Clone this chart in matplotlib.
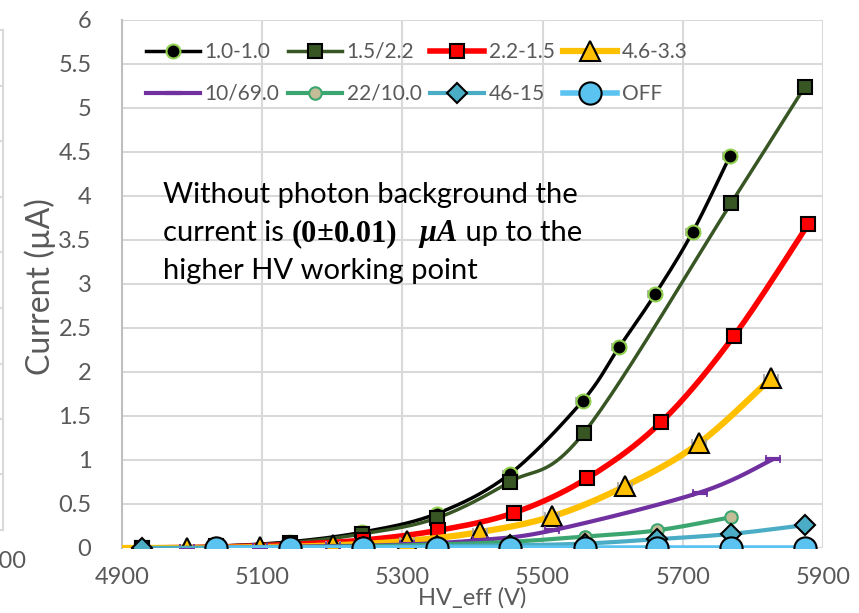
import numpy as np
import matplotlib
matplotlib.use("Agg")
import matplotlib.pyplot as plt
from matplotlib.lines import Line2D

plt.rcParams['font.family'] = ['Lato', 'DejaVu Sans']

# HV scan, current drawn by the chamber for each source filter setting
labels = ["1.0-1.0", "1.5/2.2", "2.2-1.5", "4.6-3.3", "10/69.0", "22/10.0", "46-15", "OFF"]

hv_10_10 = [4929, 5034, 5139, 5243, 5349, 5453, 5557, 5609, 5661, 5714, 5767]
i_10_10 = [0.0, 0.02, 0.07, 0.18, 0.39, 0.84, 1.67, 2.28, 2.89, 3.59, 4.45]

hv_15_22 = [4929, 5034, 5139, 5243, 5349, 5453, 5559, 5769, 5874]
i_15_22 = [0.0, 0.02, 0.06, 0.16, 0.34, 0.75, 1.31, 3.92, 5.24]

hv_22_15 = [4929, 5034, 5139, 5244, 5351, 5459, 5563, 5669, 5773, 5879]
i_22_15 = [0.0, 0.01, 0.04, 0.09, 0.20, 0.40, 0.79, 1.43, 2.41, 3.68]

hv_46_33 = [4888, 4993, 5097, 5201, 5306, 5410, 5514, 5617, 5723, 5826]
i_46_33 = [0.0, 0.0, 0.01, 0.03, 0.08, 0.18, 0.36, 0.70, 1.19, 1.93]

hv_10_69 = [4993, 5097, 5201, 5306, 5410, 5514, 5724, 5829]
i_10_69 = [0.0, 0.01, 0.02, 0.04, 0.09, 0.20, 0.63, 1.01]

hv_22_10 = [4929, 5034, 5139, 5244, 5350, 5454, 5560, 5663, 5769]
i_22_10 = [0.0, 0.0, 0.01, 0.02, 0.04, 0.07, 0.13, 0.20, 0.35]

hv_46_15 = [4929, 5034, 5139, 5244, 5350, 5454, 5560, 5663, 5769, 5874]
i_46_15 = [0.0, 0.0, 0.0, 0.01, 0.02, 0.03, 0.05, 0.10, 0.16, 0.26]

hv_off = [5034, 5139, 5244, 5350, 5454, 5560, 5663, 5769, 5874]
i_off = [0.0, 0.0, 0.0, 0.0, 0.0, 0.0, 0.0, 0.0, 0.0]

hv_err = 10  # V, uncertainty on HV_eff


def smooth(x, y, n=30):
    # Catmull-Rom style bezier through the points (like a smoothed line in a spreadsheet)
    p = np.column_stack([x, y]).astype(float)
    if len(p) < 3:
        return p[:, 0], p[:, 1]
    ext = np.vstack([p[0], p, p[-1]])
    xs, ys = [], []
    t = np.linspace(0, 1, n)
    for i in range(1, len(ext) - 2):
        p0, p1, p2, p3 = ext[i - 1], ext[i], ext[i + 1], ext[i + 2]
        c1 = p1 + (p2 - p0) / 6
        c2 = p2 - (p3 - p1) / 6
        b = ((1 - t) ** 3)[:, None] * p1 + (3 * (1 - t) ** 2 * t)[:, None] * c1 \
            + (3 * (1 - t) * t ** 2)[:, None] * c2 + (t ** 3)[:, None] * p2
        xs.append(b[:, 0])
        ys.append(b[:, 1])
    return np.concatenate(xs), np.concatenate(ys)


series = [
    # x, y, line color, lw, marker, ms, face, edge, err color, first marker
    (hv_10_10, i_10_10, "black", 2.5, "o", 10, "black", "#92D050", "#A6A6A6", 0),
    (hv_15_22, i_15_22, "#375623", 2.5, "s", 10, "#375623", "black", None, 0),
    (hv_22_15, i_22_15, "#FF0000", 4, "s", 10, "#FF0000", "black", None, 0),
    (hv_46_33, i_46_33, "#FFC000", 4.5, "^", 14, "#FFC000", "black", "#A6A6A6", 1),
    (hv_10_69, i_10_69, "#7030A0", 3, "_", 11, "#7030A0", "#7030A0", "#7030A0", 0),
    (hv_22_10, i_22_10, "#3BA66F", 3, "o", 9, "#C4BD97", "#3BA66F", None, 0),
    (hv_46_15, i_46_15, "#4BACC6", 3, "D", 10, "#4BACC6", "black", None, 0),
    (hv_off, i_off, "#5BC3F0", 4, "o", 16, "#5BC3F0", "black", None, 0),
]

W, H = 859, 613
fig = plt.figure(figsize=(W / 100, H / 100), dpi=100)
ax = fig.add_axes([122 / W, 1 - 548 / H, 701 / W, 528 / H])

grid_c = "#D9D9D9"
handles = []
for k, (x, y, lc, lw, mk, ms, fc, ec, errc, first) in enumerate(series):
    z = 3 + k
    sx, sy = smooth(x, y)
    ax.plot(sx, sy, color=lc, lw=lw, zorder=z, solid_capstyle="round")
    if errc is not None:
        ax.errorbar(x[first:], y[first:], xerr=hv_err, fmt="none", ecolor=errc,
                    elinewidth=1.2, capsize=3, capthick=1.2, zorder=z)
    mew = 3 if mk == "_" else 1.5
    ax.plot(x[first:], y[first:], ls="none", marker=mk, ms=ms, mfc=fc, mec=ec,
            mew=mew, zorder=z + 0.5)
    handles.append(Line2D([], [], color=lc, lw=lw, marker=mk, ms=ms, mfc=fc,
                          mec=ec, mew=mew))

ax.set_xlim(4900, 5900)
ax.set_ylim(0, 6)
ax.set_xticks(np.arange(4900, 5901, 200))
ax.set_yticks(np.arange(0, 6.01, 0.5))
ax.set_yticklabels([f"{v:g}" for v in np.arange(0, 6.01, 0.5)])
ax.grid(True, color=grid_c, lw=1.5, zorder=0)
ax.set_axisbelow(True)
for s in ["top", "right", "bottom"]:
    ax.spines[s].set_visible(False)
ax.spines["left"].set_color("#BFBFBF")
ax.spines["left"].set_linewidth(1.5)
ax.tick_params(axis="both", length=0, labelsize=17, labelcolor="#595959")
ax.tick_params(axis="y", pad=22)
ax.tick_params(axis="x", pad=14)

ax.set_xlabel("HV_eff (V)", fontsize=17, color="#595959")
ax.xaxis.set_label_coords(0.5, -0.095)
ax.xaxis.label.set_va("center")
ax.set_ylabel("Current (µA)", fontsize=23, color="#595959")
ax.yaxis.set_label_coords(-0.117, 0.496)
ax.yaxis.label.set_va("center")

# legend: two rows of four, filled row by row
order = [0, 4, 1, 5, 2, 6, 3, 7]
leg = ax.legend([handles[i] for i in order], [labels[i] for i in order],
                ncol=4, loc="upper left", bbox_to_anchor=(24 / 701, 1 - 22 / 528),
                frameon=False, fontsize=15, handlelength=2.6, handletextpad=0.22,
                columnspacing=0.4, labelspacing=1.05, borderpad=0, borderaxespad=0)
for t in leg.get_texts():
    t.set_color("#595959")

# note about the dark current
tx = 163
fs = 21
fig.text(tx / W, 1 - 203 / H, "Without photon background the", fontsize=fs)
fig.text(tx / W, 1 - 279 / H, "higher HV working point", fontsize=fs)
renderer = fig.canvas.get_renderer()
pieces = [
    ("current is ", dict(fontsize=fs)),
    ("(0", dict(fontsize=22, family="Liberation Serif", weight="bold")),
    ("±", dict(fontsize=fs)),
    ("0.01)", dict(fontsize=22, family="Liberation Serif", weight="bold")),
    ("   μA", dict(fontsize=22, family="Liberation Serif", weight="bold", style="italic")),
    (" up to the", dict(fontsize=fs)),
]
x_px = tx
for s, kw in pieces:
    t = fig.text(x_px / W, 1 - 241 / H, s, va="baseline", **kw)
    x_px = t.get_window_extent(renderer).x1

# edge of the neighbouring chart on the left
fig.add_artist(Line2D([3 / W, 3 / W], [1 - 30 / H, 1 - 530 / H], color="#D9D9D9", lw=1.5))
for yy in [30, 86, 141, 197, 252, 308, 364, 419, 474, 530]:
    fig.add_artist(Line2D([0, 3 / W], [1 - yy / H, 1 - yy / H], color="#D9D9D9", lw=1.5))
fig.text(27 / W, 1 - 562 / H, "5900", ha="right", va="center", fontsize=17, color="#595959")

fig.savefig("out.png", dpi=100)
